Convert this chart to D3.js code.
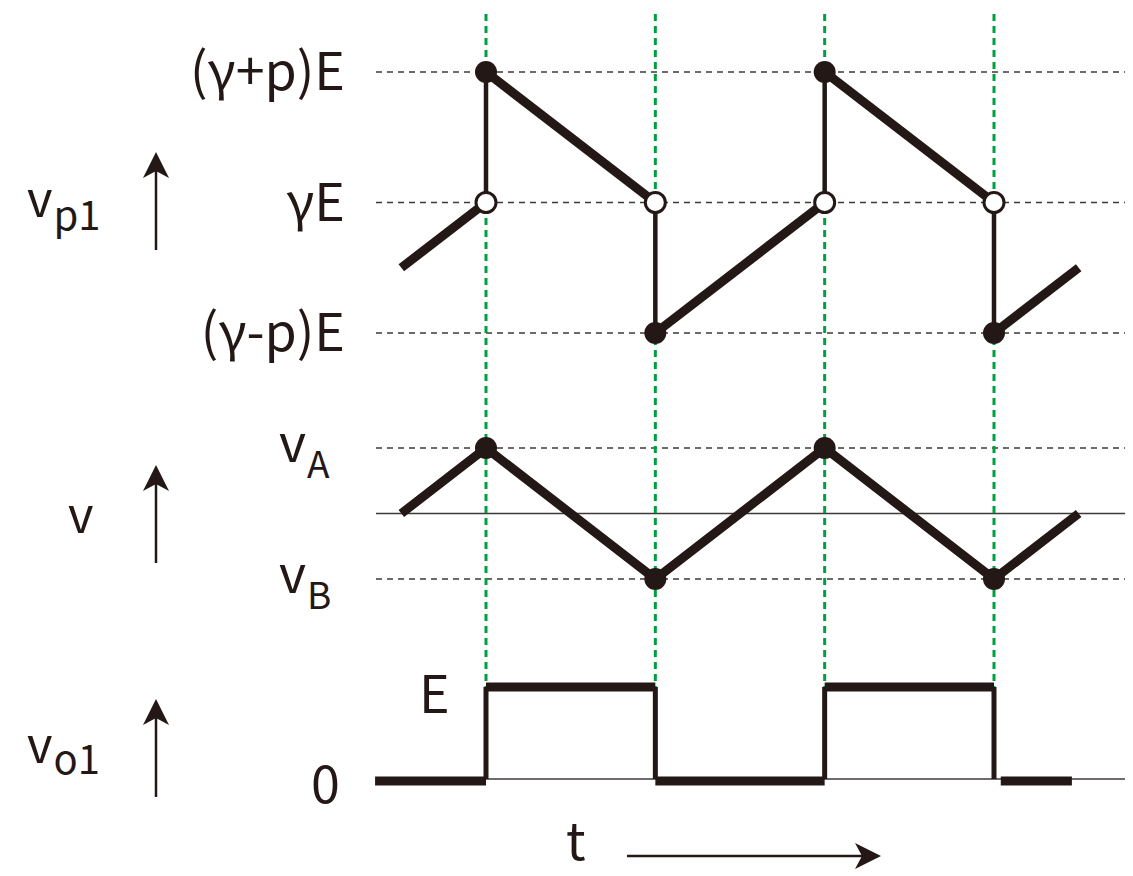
<!DOCTYPE html>
<html>
<head>
<meta charset="utf-8">
<script src="https://cdn.jsdelivr.net/npm/d3@7"></script>
<style>
  body { margin: 0; background: #fff; }
  svg text { font-family: "Noto Sans CJK JP", "Noto Sans", sans-serif; fill: #231815; }
</style>
</head>
<body>
<svg id="chart" width="1133" height="876"></svg>
<script>
// switching instants (in half periods)
const switchTimes = [0, 1, 2, 3];

// v_p1 in units of E (gamma = 1, p = 0.5)
const vp1Levels = [1.5, 1, 0.5];
const vp1LevelLabels = ["(γ+p)E", "γE", "(γ-p)E"];
// ramps: [t0, value0, t1, value1]
const vp1Ramps = [
  [-0.5, 0.75, 0, 1],
  [0, 1.5, 1, 1],
  [1, 0.5, 2, 1],
  [2, 1.5, 3, 1],
  [3, 0.5, 3.5, 0.75]
];
// jumps: [t, from, to]
const vp1Jumps = [[0, 1, 1.5], [1, 1, 0.5], [2, 1, 1.5], [3, 1, 0.5]];

// v (triangle), vA = 1, vB = -1
const vTimes = [-0.5, 0, 1, 2, 3, 3.5];
const vValues = [0, 1, -1, 1, -1, 0];
const vLevels = [1, -1];
const vLevelLabels = [["v", "A"], ["v", "B"]];

// v_o1 (square wave), 0 or E : [t0, t1, level]
const voSteps = [
  [-0.655, 0, 0],
  [0, 1, 1],
  [1, 2, 0],
  [2, 3, 1],
  [3.04, 3.46, 0]
];
const voEdges = [[0, 0, 1], [1, 1, 0], [2, 0, 1], [3, 1, 0]];

const ink = "#231815";
const green = "#00a040";
const svg = d3.select("#chart");

const x = d3.scaleLinear().domain([0, 3]).range([486, 994]);
const yP = d3.scaleLinear().domain([0.5, 1.5]).range([333, 72]);
const yV = d3.scaleLinear().domain([-1, 1]).range([579, 448]);
const yO = d3.scaleLinear().domain([0, 1]).range([779, 687]);
const gridLeft = 376, gridRight = 1125;

// horizontal reference lines
function hLines(levels, y, dashed) {
  svg.append("g").selectAll("line").data(levels).join("line")
    .attr("x1", gridLeft).attr("x2", gridRight)
    .attr("y1", d => y(d)).attr("y2", d => y(d))
    .attr("stroke", "#3e3a39").attr("stroke-width", 1.5)
    .attr("stroke-dasharray", dashed ? "6,5" : null);
}
hLines(vp1Levels, yP, true);
hLines(vLevels, yV, true);
hLines([0], yV, false);
hLines([0], yO, false);

// green switching lines
svg.append("g").selectAll("line").data(switchTimes).join("line")
  .attr("x1", d => x(d)).attr("x2", d => x(d))
  .attr("y1", 14).attr("y2", yO(1))
  .attr("stroke", green).attr("stroke-width", 3)
  .attr("stroke-dasharray", "7,5");

// level labels for v_p1
svg.append("g").selectAll("text").data(vp1Levels).join("text")
  .attr("x", 345).attr("y", d => yP(d) + 18)
  .attr("text-anchor", "end").attr("font-size", 52)
  .text((d, i) => vp1LevelLabels[i]);

// v_A, v_B labels
const vl = svg.append("g").selectAll("text").data(vLevels).join("text")
  .attr("x", 279).attr("y", d => yV(d) + 14).attr("font-size", 52);
vl.append("tspan").text((d, i) => vLevelLabels[i][0]);
vl.append("tspan").attr("font-size", 37).attr("dx", 1).attr("dy", 16).text((d, i) => vLevelLabels[i][1]);

// E and 0 labels for v_o1
svg.append("text").attr("x", 419).attr("y", 713).attr("font-size", 52).text("E");
svg.append("text").attr("x", 311).attr("y", 803).attr("font-size", 52).text("0");

// v_p1 waveform
svg.append("g").selectAll("line").data(vp1Jumps).join("line")
  .attr("x1", d => x(d[0])).attr("x2", d => x(d[0]))
  .attr("y1", d => yP(d[1])).attr("y2", d => yP(d[2]))
  .attr("stroke", ink).attr("stroke-width", 4.5);
svg.append("g").selectAll("line").data(vp1Ramps).join("line")
  .attr("x1", d => x(d[0])).attr("y1", d => yP(d[1]))
  .attr("x2", d => x(d[2])).attr("y2", d => yP(d[3]))
  .attr("stroke", ink).attr("stroke-width", 9);
svg.append("g").selectAll("circle").data(vp1Jumps).join("circle")
  .attr("cx", d => x(d[0])).attr("cy", d => yP(d[1])).attr("r", 10)
  .attr("fill", "#fff").attr("stroke", ink).attr("stroke-width", 3);
svg.append("g").selectAll("circle").data(vp1Jumps).join("circle")
  .attr("cx", d => x(d[0])).attr("cy", d => yP(d[2])).attr("r", 11)
  .attr("fill", ink);

// v waveform
const vPts = vTimes.map((t, i) => [t, vValues[i]]);
svg.append("path").datum(vPts)
  .attr("d", d3.line().x(d => x(d[0])).y(d => yV(d[1])))
  .attr("fill", "none").attr("stroke", ink).attr("stroke-width", 9);
svg.append("g").selectAll("circle").data(vPts.slice(1, -1)).join("circle")
  .attr("cx", d => x(d[0])).attr("cy", d => yV(d[1])).attr("r", 11)
  .attr("fill", ink);

// v_o1 waveform
svg.append("g").selectAll("line").data(voEdges).join("line")
  .attr("x1", d => x(d[0])).attr("x2", d => x(d[0]))
  .attr("y1", d => yO(d[1])).attr("y2", d => yO(d[2]))
  .attr("stroke", ink).attr("stroke-width", 5);
svg.append("g").selectAll("line").data(voSteps).join("line")
  .attr("x1", d => x(d[0])).attr("x2", d => x(d[1]))
  .attr("y1", d => yO(d[2]) + (d[2] ? 0 : 2)).attr("y2", d => yO(d[2]) + (d[2] ? 0 : 2))
  .attr("stroke", ink).attr("stroke-width", 9);

// arrows
function arrow(x1, y1, x2, y2) {
  const a = Math.atan2(y2 - y1, x2 - x1);
  svg.append("line").attr("x1", x1).attr("y1", y1).attr("x2", x2 - 14 * Math.cos(a)).attr("y2", y2 - 14 * Math.sin(a))
    .attr("stroke", ink).attr("stroke-width", 2.5);
  const head = "M0,0 L-26,-13 L-19,0 L-26,13 Z";
  svg.append("path").attr("d", head).attr("fill", ink)
    .attr("transform", `translate(${x2},${y2}) rotate(${a * 180 / Math.PI})`);
}
arrow(156, 250, 156, 152);
arrow(156, 563, 156, 465);
arrow(156, 797, 156, 699);
arrow(627, 856, 881, 856);

// axis titles
function sub(xp, yp, main, s, dy) {
  const t = svg.append("text").attr("x", xp).attr("y", yp).attr("font-size", 49);
  t.append("tspan").text(main);
  if (s) t.append("tspan").attr("font-size", 40).attr("dx", 1).attr("dy", dy).text(s);
}
sub(27, 217, "v", "p1", 13);
sub(68, 533, "v", null, 0);
sub(27, 763, "v", "o1", 11);
svg.append("text").attr("x", 566).attr("y", 860).attr("font-size", 52).text("t");
</script>
</body>
</html>
